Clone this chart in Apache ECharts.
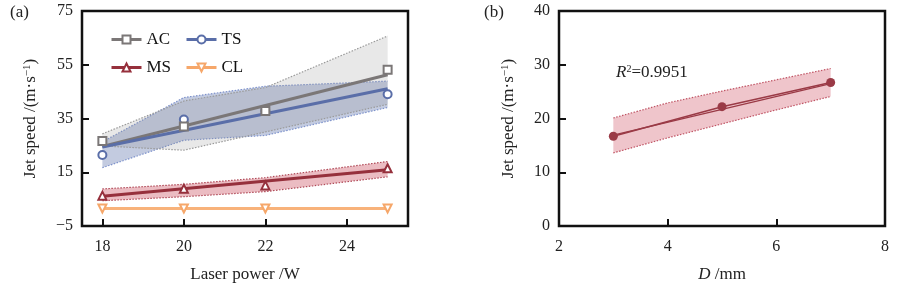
<!DOCTYPE html>
<html>
<head>
<meta charset="utf-8">
<script src="https://cdn.jsdelivr.net/npm/echarts@6/dist/echarts.min.js"></script>
<style>
  html, body { margin: 0; padding: 0; background: #fff; }
  #chart { width: 900px; height: 288px; }
</style>
</head>
<body>
<div id="chart"></div>
<script>
// panel (a): jet speed vs laser power
const powerW = [18, 20, 22, 25];
const acSpeed = [26.6, 32.0, 37.8, 53.1];
const tsSpeed = [21.4, 34.6, 37.8, 44.0];
const msSpeed = [6.3, 8.9, 10.1, 16.5];
const clSpeed = [1.5, 1.5, 1.5, 1.5];
// fitted lines (end points)
const fitX = [18, 25];
const acFit = [24.6, 51.3];
const tsFit = [24.4, 46.1];
const msFit = [6.1, 15.9];
// confidence bands
const acUpper = [29.3, 41.5, 46.5, 65.7];
const acLower = [24.8, 23.2, 30.0, 40.3];
const tsUpper = [26.3, 42.8, 47.0, 48.9];
const tsLower = [16.7, 26.9, 28.7, 39.1];
const msUpper = [8.8, 10.5, 13.0, 19.0];
const msLower = [4.4, 5.9, 7.8, 13.3];

// panel (b): jet speed vs diameter
const diameterMm = [3, 5, 7];
const speedB = [16.7, 22.2, 26.7];
const fitXB = [3, 7];
const fitB = [16.9, 26.5];
const bandXB = [3, 4, 5, 6, 7];
const bandUpperB = [20.1, 22.9, 25.1, 27.2, 29.3];
const bandLowerB = [13.6, 16.4, 19.0, 21.6, 24.1];

const FONT = 'Liberation Serif';
const gray = '#7b7777', blue = '#5a6ea8', red = '#96303c', orange = '#f6a76a';

function pairs(xs, ys) {
  return xs.map((x, i) => [x, ys[i]]);
}

function band(axis, xs, lo, hi, fill, edge, z) {
  return {
    type: 'custom', xAxisIndex: axis, yAxisIndex: axis, silent: true, z: z || 1,
    data: [[xs[0], lo[0]]],
    renderItem: function (params, api) {
      const top = xs.map((x, i) => api.coord([x, hi[i]]));
      const bot = xs.map((x, i) => api.coord([x, lo[i]]));
      const edgeStyle = { stroke: edge, lineWidth: 1.2, lineDash: [1.5, 1.5], fill: null };
      return {
        type: 'group',
        children: [
          { type: 'polygon', shape: { points: top.concat(bot.slice().reverse()) }, style: { fill: fill } },
          { type: 'polyline', shape: { points: top }, style: edgeStyle },
          { type: 'polyline', shape: { points: bot }, style: edgeStyle }
        ]
      };
    }
  };
}

function fitLine(axis, xs, ys, color, width) {
  return {
    type: 'line', xAxisIndex: axis, yAxisIndex: axis, silent: true, z: 3,
    data: pairs(xs, ys), showSymbol: false, symbol: 'none',
    lineStyle: { color: color, width: width }
  };
}

function points(name, ys, symbol, color, rotate, z) {
  return {
    name: name, type: 'line', xAxisIndex: 0, yAxisIndex: 0, z: z,
    data: pairs(powerW, ys), symbol: symbol, symbolSize: 8, symbolRotate: rotate || 0,
    itemStyle: { color: color, borderWidth: 1.8 },
    lineStyle: { color: color, width: 3, opacity: 0 }
  };
}

const tickLabel = { fontFamily: FONT, fontSize: 16, color: '#222' };
const axisName = { fontFamily: FONT, fontSize: 17, color: '#222' };
const legendText = { fontFamily: FONT, fontSize: 17, color: '#111' };
const supRich = { sup: { fontFamily: FONT, fontSize: 11, color: '#222', verticalAlign: 'top', padding: [0, 0, 6, 0] } };

var myChart = echarts.init(document.getElementById('chart'));
var option = {
  animation: false,
  backgroundColor: '#fff',
  grid: [
    { left: 82, right: 492, top: 11, bottom: 60, show: true, borderColor: '#111', borderWidth: 2.5, backgroundColor: 'transparent' },
    { left: 559, right: 15, top: 11, bottom: 60, show: true, borderColor: '#111', borderWidth: 2.5, backgroundColor: 'transparent' }
  ],
  legend: [
    {
      orient: 'vertical', left: 110, top: 31, padding: 0, itemWidth: 30, itemHeight: 10, itemGap: 11,
      textStyle: legendText,
      data: [
        { name: 'AC', lineStyle: { opacity: 1, width: 3, color: gray } },
        { name: 'MS', lineStyle: { opacity: 1, width: 3, color: red } }
      ]
    },
    {
      orient: 'vertical', left: 185, top: 31, padding: 0, itemWidth: 30, itemHeight: 10, itemGap: 11,
      textStyle: legendText,
      data: [
        { name: 'TS', lineStyle: { opacity: 1, width: 3, color: blue } },
        { name: 'CL', lineStyle: { opacity: 1, width: 3, color: orange } }
      ]
    }
  ],
  xAxis: [
    {
      gridIndex: 0, type: 'value', min: 17.5, max: 25.5, splitNumber: 4,
      name: 'Laser power /W', nameLocation: 'middle', nameGap: 40, nameTextStyle: axisName,
      axisLine: { show: false, onZero: false }, splitLine: { show: false },
      axisTick: { inside: true, length: 7, lineStyle: { color: '#111', width: 2 } },
      axisLabel: Object.assign({ margin: 13, showMinLabel: false, showMaxLabel: false }, tickLabel)
    },
    {
      gridIndex: 1, type: 'value', min: 2, max: 8, interval: 2,
      name: '{i|D} /mm', nameLocation: 'middle', nameGap: 40,
      nameTextStyle: Object.assign({ rich: { i: { fontFamily: FONT, fontSize: 17, fontStyle: 'italic', color: '#222' } } }, axisName),
      axisLine: { show: false, onZero: false }, splitLine: { show: false },
      axisTick: { inside: true, length: 7, lineStyle: { color: '#111', width: 2 } },
      axisLabel: Object.assign({ margin: 13 }, tickLabel)
    }
  ],
  yAxis: [
    {
      gridIndex: 0, type: 'value', min: -5, max: 75, interval: 20,
      name: 'Jet speed /(m·s{sup|−1})', nameLocation: 'middle', nameGap: 43,
      nameTextStyle: Object.assign({ rich: supRich }, axisName),
      axisLine: { show: false, onZero: false }, splitLine: { show: false },
      axisTick: { inside: true, length: 7, lineStyle: { color: '#111', width: 2 } },
      axisLabel: Object.assign({ margin: 9, formatter: v => v < 0 ? '−' + Math.abs(v) : v }, tickLabel)
    },
    {
      gridIndex: 1, type: 'value', min: 0, max: 40, interval: 10,
      name: 'Jet speed /(m·s{sup|−1})', nameLocation: 'middle', nameGap: 42,
      nameTextStyle: Object.assign({ rich: supRich }, axisName),
      axisLine: { show: false, onZero: false }, splitLine: { show: false },
      axisTick: { inside: true, length: 7, lineStyle: { color: '#111', width: 2 } },
      axisLabel: Object.assign({ margin: 9 }, tickLabel)
    }
  ],
  graphic: [
    { type: 'text', left: 10, top: 4, style: { text: '(a)', fontFamily: FONT, fontSize: 17, fill: '#222' } },
    { type: 'text', left: 484, top: 4, style: { text: '(b)', fontFamily: FONT, fontSize: 17, fill: '#222' } },
    {
      type: 'text', left: 616, top: 64,
      style: {
        text: '{i|R}{s|2}=0.9951', fontFamily: FONT, fontSize: 17, fill: '#222',
        rich: {
          i: { fontFamily: FONT, fontSize: 17, fontStyle: 'italic', fill: '#222' },
          s: { fontFamily: FONT, fontSize: 10, fill: '#222', verticalAlign: 'top', padding: [0, 0, 6, 0] }
        }
      }
    }
  ],
  series: [
    band(0, powerW, tsLower, tsUpper, 'rgba(90,110,170,0.36)', '#7f93cc', 1),
    band(0, powerW, acLower, acUpper, 'rgba(140,140,140,0.2)', '#9a9a9a', 1),
    band(0, powerW, msLower, msUpper, 'rgba(200,70,85,0.36)', '#b04a58', 1),
    fitLine(0, fitX, acFit, gray, 3),
    fitLine(0, fitX, tsFit, blue, 3),
    fitLine(0, fitX, msFit, red, 3),
    fitLine(0, powerW, clSpeed, '#f8b27a', 3),
    points('TS', tsSpeed, 'emptyCircle', blue, 0, 4),
    points('AC', acSpeed, 'emptyRect', gray, 0, 5),
    points('MS', msSpeed, 'emptyTriangle', red, 0, 5),
    points('CL', clSpeed, 'emptyTriangle', orange, 180, 5),
    band(1, bandXB, bandLowerB, bandUpperB, 'rgba(215,110,125,0.4)', '#c05565', 1),
    fitLine(1, fitXB, fitB, '#9a3a46', 1.2),
    {
      name: 'D', type: 'line', xAxisIndex: 1, yAxisIndex: 1, z: 4,
      data: pairs(diameterMm, speedB), symbol: 'circle', symbolSize: 9,
      itemStyle: { color: '#9a3a46' }, lineStyle: { color: '#9a3a46', width: 1.5 }
    }
  ]
};
myChart.setOption(option);
</script>
</body>
</html>
